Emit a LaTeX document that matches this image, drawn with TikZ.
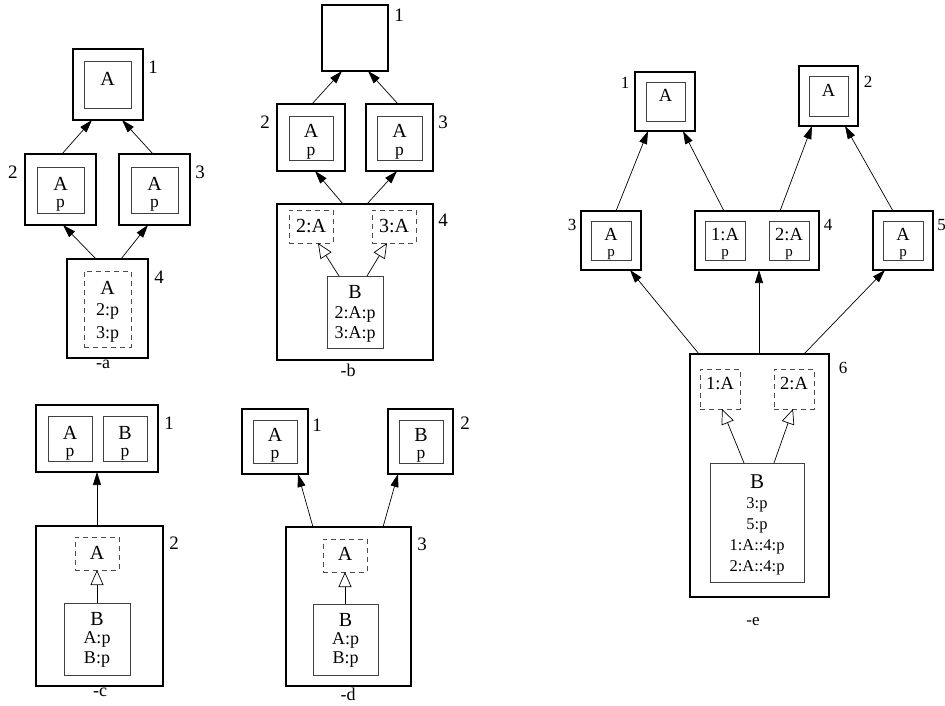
\documentclass[tikz,border=0pt]{standalone}
\usepackage{fontspec}
\setmainfont{Liberation Serif}
\usetikzlibrary{arrows.meta}
\newcommand{\fA}{\fontsize{20}{20}\selectfont}
\newcommand{\fS}{\fontsize{18}{18}\selectfont}
\newcommand{\fP}{\fontsize{17.5}{17.5}\selectfont}
\newcommand{\fL}{\fontsize{19}{19}\selectfont}
\newcommand{\fEA}{\fontsize{18.5}{18.5}\selectfont}
\newcommand{\fEp}{\fontsize{15}{15}\selectfont}
\newcommand{\fEB}{\fontsize{21}{21}\selectfont}
\newcommand{\fEs}{\fontsize{16.5}{16.5}\selectfont}
\newcommand{\fEL}{\fontsize{17}{17}\selectfont}
\newcommand{\bx}[6]{\node[#6, minimum width={(#4-#2)*1pt}, minimum height={(#5-#3)*1pt}] (#1) at ({(#2+#4)/2},{(#3+#5)/2}) {};}
\tikzset{
  outer/.style={draw=black, line width=1.6pt, inner sep=0pt, outer sep=0pt},
  inner/.style={draw=black!75, line width=0.9pt, inner sep=0pt, outer sep=0pt},
  dbox/.style={draw=black!70, line width=0.8pt, dash pattern=on 5pt off 4pt, inner sep=0pt, outer sep=0pt},
  txt/.style={anchor=base, inner sep=0pt, outer sep=0pt},
  lbl/.style={inner sep=0pt, outer sep=0pt},
  arr/.style={-{Triangle[length=13pt,width=8pt]}, line width=0.7pt},
  oarr/.style={-{Triangle[open,length=15pt,width=13pt]}, line width=0.7pt},
}
\begin{document}
\begin{tikzpicture}[x=1pt,y=-1pt]
\useasboundingbox (0,0) rectangle (945,706);
% ---------------- diagram a ----------------
\bx{a1}{73}{49}{143}{120}{outer}
\bx{a1i}{84}{61}{131}{108}{inner}
\node[txt,font=\fA] (a1t) at (107.5,86) {A};
\node[lbl,font=\fL] (a1n) at (153,67) {1};
\bx{a2}{25}{154}{96}{225}{outer}
\bx{a2i}{37}{167}{84}{213}{inner}
\node[txt,font=\fA] (a2t) at (60.5,190) {A};
\node[txt,font=\fP] (a2p) at (60.5,207.5) {p};
\node[lbl,font=\fL] (a2n) at (13,172) {2};
\bx{a3}{119}{154}{190}{225}{outer}
\bx{a3i}{131}{167}{178}{213}{inner}
\node[txt,font=\fA] (a3t) at (154.5,190) {A};
\node[txt,font=\fP] (a3p) at (154.5,207.5) {p};
\node[lbl,font=\fL] (a3n) at (200,172) {3};
\bx{a4}{67}{259}{148}{358}{outer}
\bx{a4d}{84}{271}{131}{347}{dbox}
\node[txt,font=\fA] (a4t) at (107.5,294) {A};
\node[txt,font=\fS] (a4p) at (107.5,315) {2:p};
\node[txt,font=\fS] (a4q) at (107.5,338) {3:p};
\node[lbl,font=\fL] (a4n) at (159,277) {4};
\node[lbl,font=\fS] (acap) at (103,364) {-a};
\draw[arr] ([xshift=-11.5pt]a4.north) -- ([xshift=2.5pt]a2.south);
\draw[arr] ([xshift=13.5pt]a4.north) -- ([xshift=-6.5pt]a3.south);
\draw[arr] ([xshift=1.5pt]a2.north) -- ([xshift=-16pt]a1.south);
\draw[arr] ([xshift=-1.5pt]a3.north) -- ([xshift=14pt]a1.south);
% ---------------- diagram b ----------------
\bx{b1}{322}{5}{388}{71}{outer}
\node[lbl,font=\fL] (b1n) at (399,15) {1};
\bx{b2}{277}{104}{345}{171}{outer}
\bx{b2i}{289}{116}{333}{160}{inner}
\node[txt,font=\fA] (b2t) at (311,138) {A};
\node[txt,font=\fP] (b2p) at (311,155.5) {p};
\node[lbl,font=\fL] (b2n) at (265,122) {2};
\bx{b3}{366}{104}{433}{171}{outer}
\bx{b3i}{377}{116}{422}{160}{inner}
\node[txt,font=\fA] (b3t) at (399.5,138) {A};
\node[txt,font=\fP] (b3p) at (399.5,155.5) {p};
\node[lbl,font=\fL] (b3n) at (443,122) {3};
\bx{b4}{277}{204}{433}{360}{outer}
\bx{b4a}{289}{210}{333}{243}{dbox}
\node[txt,font=\fA] (b4at) at (311,232) {2:A};
\bx{b4b}{372}{210}{416}{243}{dbox}
\node[txt,font=\fA] (b4bt) at (394,232) {3:A};
\bx{bB}{327}{276}{383}{348}{inner}
\node[txt,font=\fA] (bBt) at (355,298) {B};
\node[txt,font=\fS] (bBp) at (355,318) {2:A:p};
\node[txt,font=\fS] (bBq) at (355,338) {3:A:p};
\node[lbl,font=\fL] (b4n) at (443,220) {4};
\node[lbl,font=\fS] (bcap) at (348,370) {-b};
\draw[arr] ([xshift=-12pt]b4.north) -- ([xshift=4pt]b2.south);
\draw[arr] ([xshift=12pt]b4.north) -- ([xshift=-2.5pt]b3.south);
\draw[arr] ([xshift=1pt]b2.north) -- ([xshift=-13pt]b1.south);
\draw[arr] ([xshift=-1.5pt]b3.north) -- ([xshift=13pt]b1.south);
\draw[oarr] ([xshift=-16pt]bB.north) -- ([xshift=7pt]b4a.south);
\draw[oarr] ([xshift=12pt]bB.north) -- ([xshift=-7pt]b4b.south);
% ---------------- diagram c ----------------
\bx{c1}{36}{405}{158}{472}{outer}
\bx{c1a}{48}{416}{92}{461}{inner}
\bx{c1b}{103}{416}{147}{461}{inner}
\node[txt,font=\fA] (c1at) at (70,439) {A};
\node[txt,font=\fP] (c1ap) at (70,456.5) {p};
\node[txt,font=\fA] (c1bt) at (125,439) {B};
\node[txt,font=\fP] (c1bp) at (125,456.5) {p};
\node[lbl,font=\fL] (c1n) at (169,423) {1};
\bx{c2}{36}{526}{163}{686}{outer}
\bx{c2a}{75}{537}{119}{570}{dbox}
\node[txt,font=\fA] (c2at) at (97,559) {A};
\bx{cB}{64}{603}{130}{675}{inner}
\node[txt,font=\fA] (cBt) at (97,625) {B};
\node[txt,font=\fS] (cBp) at (97,643) {A:p};
\node[txt,font=\fS] (cBq) at (97,663) {B:p};
\node[lbl,font=\fL] (c2n) at (174,543) {2};
\node[lbl,font=\fS] (ccap) at (100,692) {-c};
\draw[arr] ([xshift=-2.5pt]c2.north) -- (c1.south);
\draw[oarr] (cB.north) -- (c2a.south);
% ---------------- diagram d ----------------
\bx{d1}{242}{409}{308}{474}{outer}
\bx{d1i}{253}{420}{297}{463}{inner}
\node[txt,font=\fA] (d1t) at (275,441) {A};
\node[txt,font=\fP] (d1p) at (275,458) {p};
\node[lbl,font=\fL] (d1n) at (317,425) {1};
\bx{d2}{388}{409}{453}{474}{outer}
\bx{d2i}{399}{420}{443}{463}{inner}
\node[txt,font=\fA] (d2t) at (421,441) {B};
\node[txt,font=\fP] (d2p) at (421,458) {p};
\node[lbl,font=\fL] (d2n) at (465,423) {2};
\bx{d3}{286}{527}{411}{686}{outer}
\bx{d3a}{323}{539}{367}{572}{dbox}
\node[txt,font=\fA] (d3at) at (345,560) {A};
\bx{dB}{313}{604}{378}{675}{inner}
\node[txt,font=\fA] (dBt) at (345.5,626) {B};
\node[txt,font=\fS] (dBp) at (345.5,644) {A:p};
\node[txt,font=\fS] (dBq) at (345.5,663) {B:p};
\node[lbl,font=\fL] (d3n) at (422,544) {3};
\node[lbl,font=\fS] (dcap) at (348,694) {-d};
\draw[arr] ([xshift=-35.5pt]d3.north) -- ([xshift=23pt]d1.south);
\draw[arr] ([xshift=34.5pt]d3.north) -- ([xshift=-22.5pt]d2.south);
\draw[oarr] ([xshift=-0.5pt]dB.north) -- (d3a.south);
% ---------------- diagram e ----------------
\bx{e1}{635}{72}{695}{131}{outer}
\bx{e1i}{646}{82}{685}{121}{inner}
\node[txt,font=\fEA] (e1t) at (665.5,102) {A};
\node[lbl,font=\fEL] (e1n) at (625,83) {1};
\bx{e2}{799}{66}{858}{126}{outer}
\bx{e2i}{809}{76}{848}{116}{inner}
\node[txt,font=\fEA] (e2t) at (828.5,97) {A};
\node[lbl,font=\fEL] (e2n) at (868,82) {2};
\bx{e3}{581}{211}{641}{270}{outer}
\bx{e3i}{591}{221}{631}{260}{inner}
\node[txt,font=\fEA] (e3t) at (611,240) {A};
\node[txt,font=\fEp] (e3p) at (611,256.5) {p};
\node[lbl,font=\fEL] (e3n) at (572,225) {3};
\bx{e4}{695}{211}{819}{270}{outer}
\bx{e4a}{705}{221}{745}{260}{inner}
\bx{e4b}{769}{221}{809}{260}{inner}
\node[txt,font=\fEA] (e4at) at (725,240) {1:A};
\node[txt,font=\fEp] (e4ap) at (725,256.5) {p};
\node[txt,font=\fEA] (e4bt) at (789,240) {2:A};
\node[txt,font=\fEp] (e4bp) at (789,256.5) {p};
\node[lbl,font=\fEL] (e4n) at (828,225) {4};
\bx{e5}{873}{211}{933}{270}{outer}
\bx{e5i}{883}{221}{923}{260}{inner}
\node[txt,font=\fEA] (e5t) at (903,240) {A};
\node[txt,font=\fEp] (e5p) at (903,256.5) {p};
\node[lbl,font=\fEL] (e5n) at (941.5,225) {5};
\bx{e6}{690}{354}{829}{597}{outer}
\bx{e6a}{700}{369}{740}{409}{dbox}
\node[txt,font=\fEA] (e6at) at (720,389) {1:A};
\bx{e6b}{774}{369}{814}{409}{dbox}
\node[txt,font=\fEA] (e6bt) at (794,389) {2:A};
\bx{eB}{710}{463}{804}{582}{inner}
\node[txt,font=\fEB] (eBt) at (757,488) {B};
\node[txt,font=\fEs] (eB1) at (757,508) {3:p};
\node[txt,font=\fEs] (eB2) at (757,529) {5:p};
\node[txt,font=\fEs] (eB3) at (757,550) {1:A::4:p};
\node[txt,font=\fEs] (eB4) at (757,571) {2:A::4:p};
\node[lbl,font=\fEL] (e6n) at (843,368) {6};
\node[lbl,font=\fEL] (ecap) at (753,622) {-e};
\draw[arr] ([xshift=5pt]e3.north) -- ([xshift=-17pt]e1.south);
\draw[arr] ([xshift=-33pt]e4.north) -- ([xshift=18pt]e1.south);
\draw[arr] ([xshift=23pt]e4.north) -- ([xshift=-16.5pt]e2.south);
\draw[arr] ([xshift=-10pt]e5.north) -- ([xshift=16.5pt]e2.south);
\draw[arr] ([xshift=-60.5pt]e6.north) -- ([xshift=19pt]e3.south);
\draw[arr] ([xshift=-0.5pt]e6.north) -- ([xshift=2pt]e4.south);
\draw[arr] ([xshift=44.5pt]e6.north) -- ([xshift=-18pt]e5.south);
\draw[oarr] ([xshift=-13pt]eB.north) -- ([xshift=2pt]e6a.south);
\draw[oarr] ([xshift=17pt]eB.north) -- ([xshift=-1pt]e6b.south);
\end{tikzpicture}
\end{document}
